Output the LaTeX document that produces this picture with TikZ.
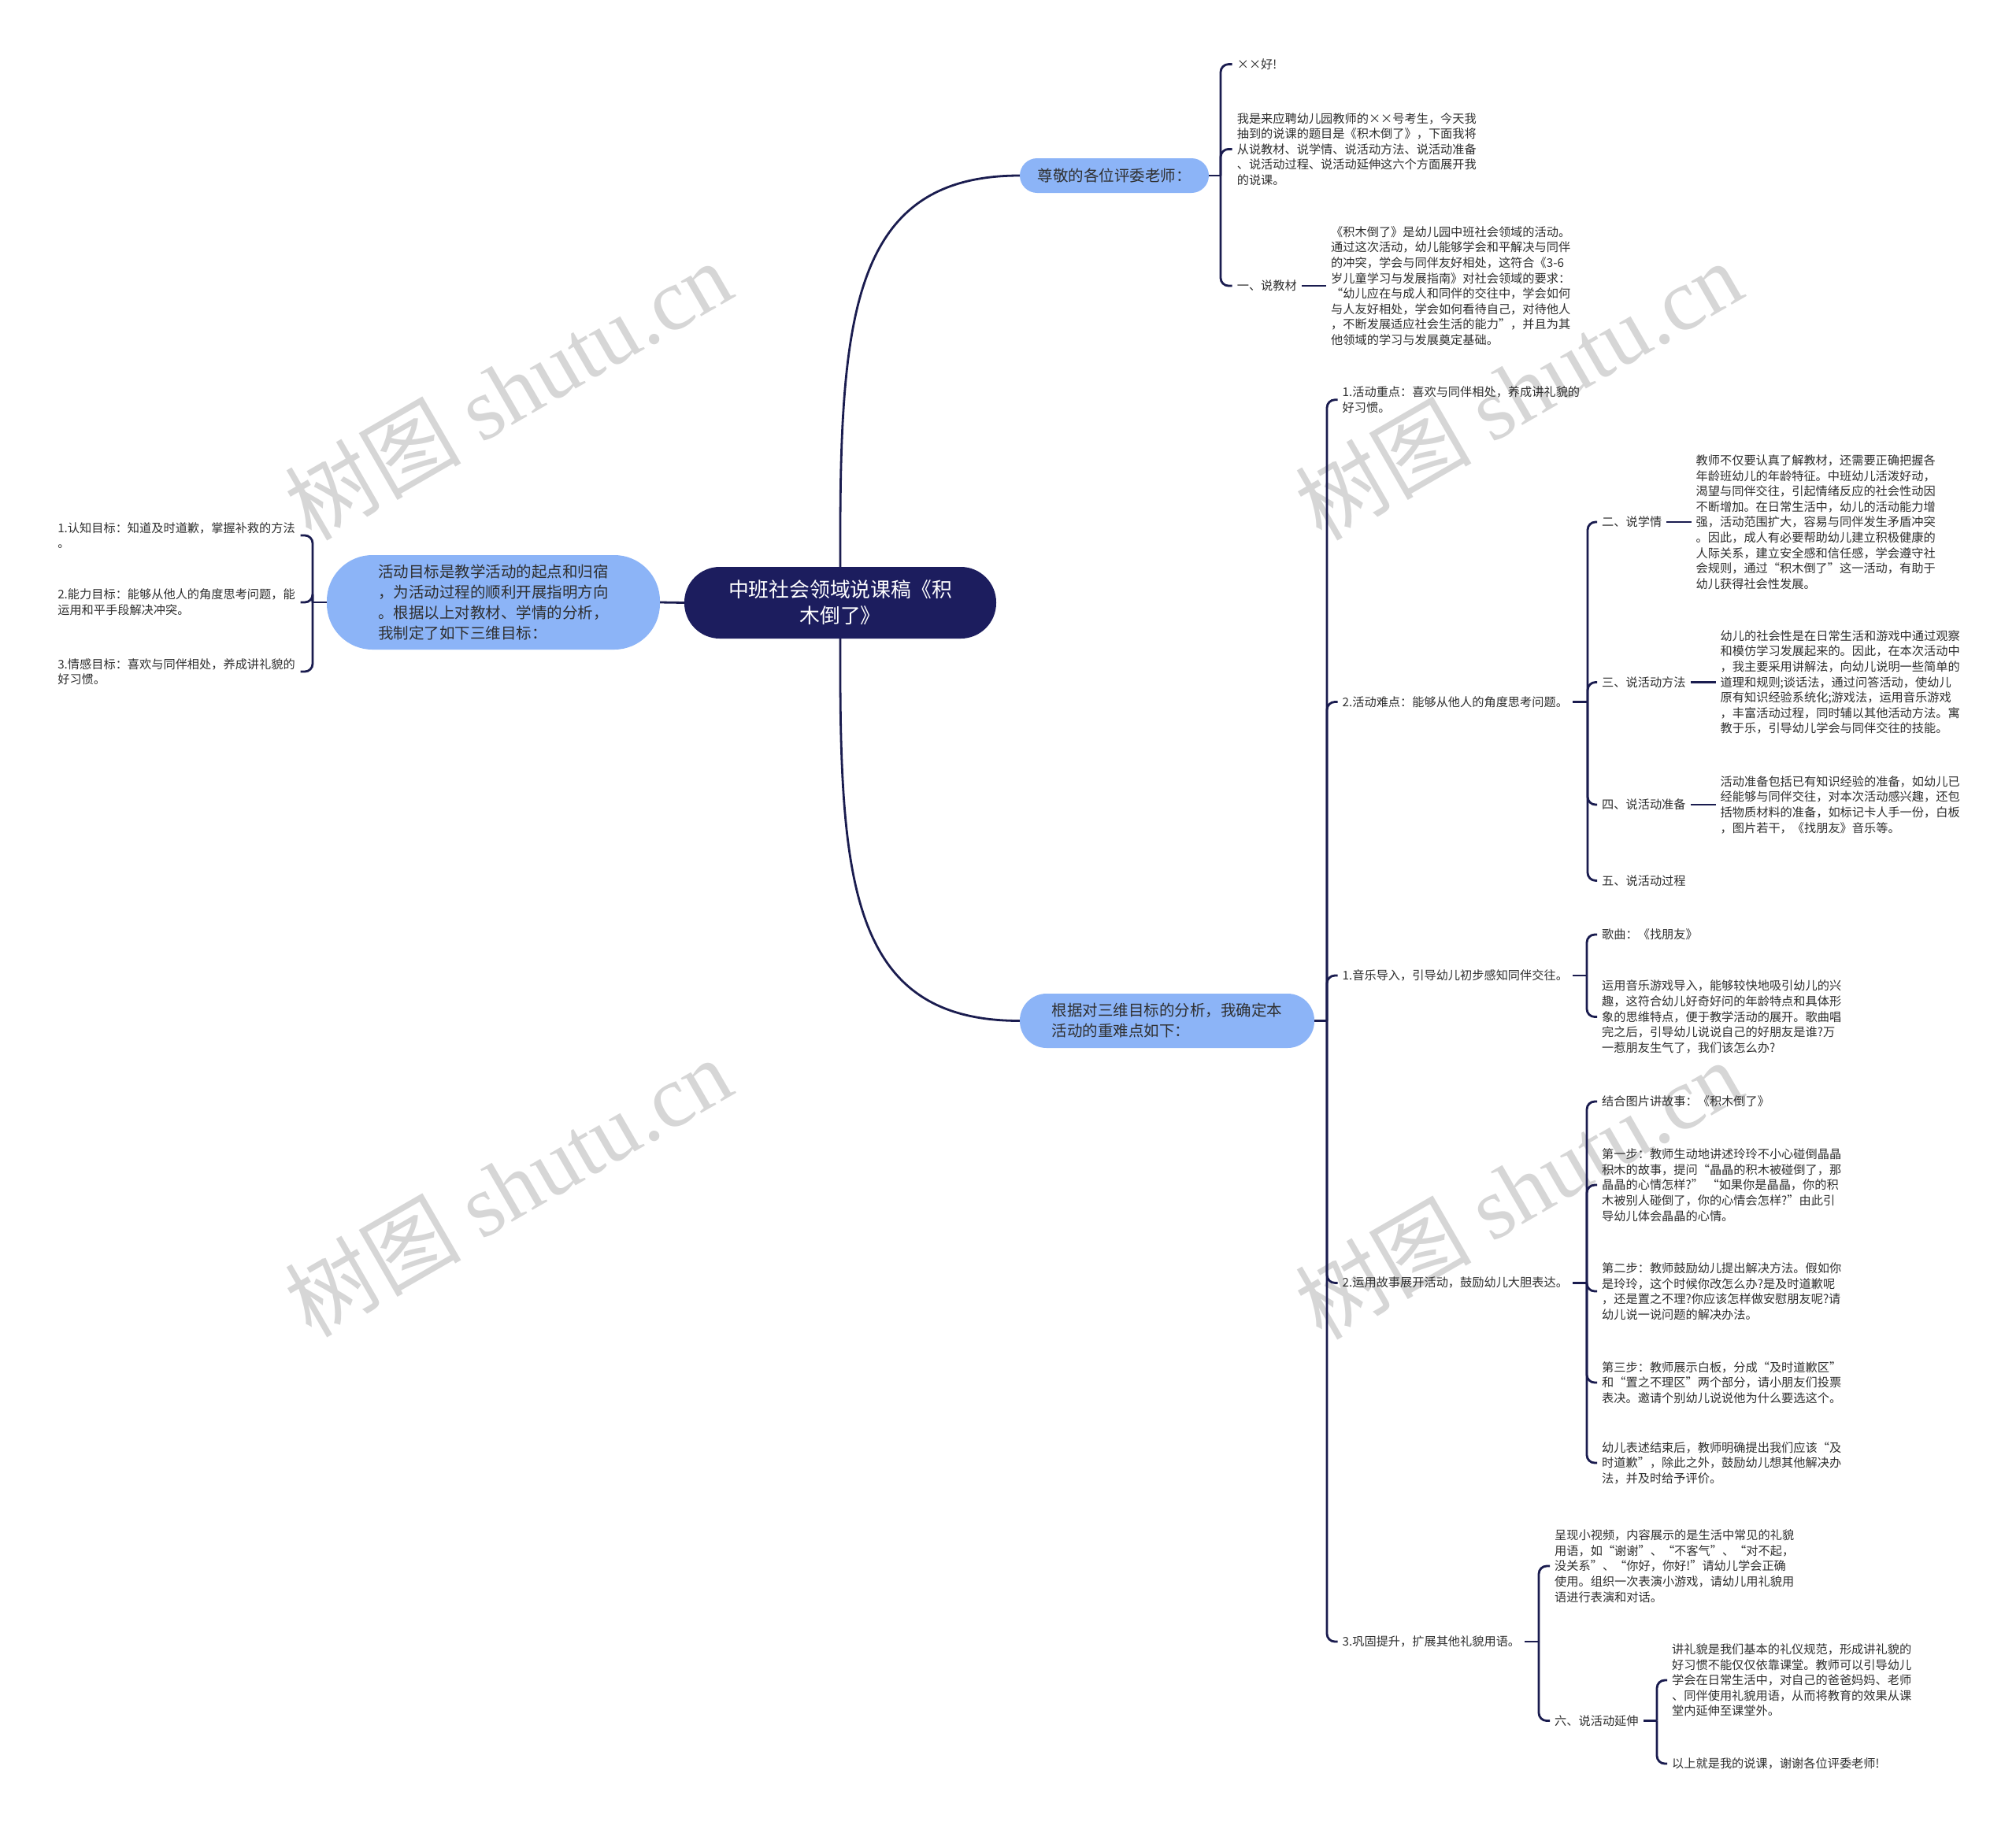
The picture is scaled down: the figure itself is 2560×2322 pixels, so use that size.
\documentclass[tikz,border=0pt]{standalone}
\usepackage{fontspec}
\setmainfont{Noto Sans CJK SC}
\newfontfamily\wmlatin{Liberation Serif}
\definecolor{navy}{HTML}{1C1D5E}
\definecolor{linec}{HTML}{1A1C4F}
\definecolor{pillc}{HTML}{8CB4F7}
\definecolor{txtc}{HTML}{2F2F2F}
\definecolor{wmc}{HTML}{D6D6D6}
\newcommand{\fsmall}{\fontsize{15.2}{19.6}\selectfont}
\newcommand{\fmid}{\fontsize{19.5}{26}\selectfont}
\newcommand{\fbig}{\fontsize{25.8}{33}\selectfont}
\tikzset{
  leaf/.style={font=\fsmall, text=txtc, align=left, inner xsep=6pt, inner ysep=2pt, anchor=west},
  leafR/.style={leaf, anchor=east, text width=302pt},
  pill/.style={fill=pillc, text=txtc, font=\fmid, align=left, inner sep=0pt},
  conn/.style={draw=linec, line width=2.8pt, rounded corners=10pt},
  mainline/.style={draw=linec, line width=2.8pt},
  wmark/.style={text=wmc, rotate=30, font=\fontsize{112}{112}\selectfont},
}
\begin{document}
\begin{tikzpicture}[x=1pt,y=-1pt]
\useasboundingbox (0,0) rectangle (2560,2322);
\fill[white] (0,0) rectangle (2560,2322);

% watermarks
\node[wmark] (wm1) at (645,495) {树图 {\wmlatin shutu.cn}};
\node[wmark] (wm2) at (1928,495) {树图 {\wmlatin shutu.cn}};
\node[wmark] (wm3) at (645,1507) {树图 {\wmlatin shutu.cn}};
\node[wmark] (wm4) at (1928,1510) {树图 {\wmlatin shutu.cn}};

% main nodes
\node[fill=navy, text=white, font=\fbig, align=center, minimum width=396pt, minimum height=91pt, rounded corners=45pt, inner sep=0pt] (root) at (1067,765.5) {中班社会领域说课稿《积\\木倒了》};
\node[pill, minimum width=423pt, minimum height=120pt, rounded corners=58pt] (goal) at (626.5,765) {活动目标是教学活动的起点和归宿\\，为活动过程的顺利开展指明方向\\。根据以上对教材、学情的分析，\\我制定了如下三维目标：};
\node[pill, minimum width=240pt, minimum height=44pt, rounded corners=22pt] (zun) at (1415,223) {尊敬的各位评委老师：};
\node[pill, minimum width=374pt, minimum height=69pt, rounded corners=34pt] (gen) at (1482,1296.5) {根据对三维目标的分析，我确定本\\活动的重难点如下：};

\draw[mainline] (root.west) -- (goal.east);
\draw[mainline] (root.north) .. controls (1066,408) and (1078,223) .. (zun.west);
\draw[mainline] (root.south) .. controls (1066,1118) and (1078,1296.5) .. (gen.west);

% left children
\node[leafR] (l1) at (381.5,680) {1.认知目标：知道及时道歉，掌握补救的方法\\。};
\node[leafR] (l2) at (381.5,765) {2.能力目标：能够从他人的角度思考问题，能\\运用和平手段解决冲突。};
\node[leafR] (l3) at (381.5,853) {3.情感目标：喜欢与同伴相处，养成讲礼貌的\\好习惯。};
\coordinate (jl) at (397,765);
\draw[conn] (goal.west) -- (jl);
\foreach \nn in {l1,l2,l3} \draw[conn] (jl) |- (\nn.east);

% zun children
\node[leaf] (z1) at (1564.6,81.6) {××好!};
\node[leaf] (z2) at (1564.6,189.4) {我是来应聘幼儿园教师的××号考生，今天我\\抽到的说课的题目是《积木倒了》，下面我将\\从说教材、说学情、说活动方法、说活动准备\\、说活动过程、说活动延伸这六个方面展开我\\的说课。};
\node[leaf] (z3) at (1564.6,363) {一、说教材};
\node[leaf] (z3b) at (1684,363) {《积木倒了》是幼儿园中班社会领域的活动。\\通过这次活动，幼儿能够学会和平解决与同伴\\的冲突，学会与同伴友好相处，这符合《3-6\\岁儿童学习与发展指南》对社会领域的要求：\\“幼儿应在与成人和同伴的交往中，学会如何\\与人友好相处，学会如何看待自己，对待他人\\，不断发展适应社会生活的能力”，并且为其\\他领域的学习与发展奠定基础。};
\coordinate (jz) at (1550,223);
\draw[conn] (zun.east) -- (jz);
\foreach \nn in {z1,z2,z3} \draw[conn] (jz) |- (\nn.west);
\draw[mainline] (z3.east) -- (z3b.west);

% gen children
\node[leaf] (d1) at (1698.5,507.8) {1.活动重点：喜欢与同伴相处，养成讲礼貌的\\好习惯。};
\node[leaf] (d2) at (1698.5,891.5) {2.活动难点：能够从他人的角度思考问题。};
\node[leaf] (d3) at (1698.5,1239) {1.音乐导入，引导幼儿初步感知同伴交往。};
\node[leaf] (d4) at (1698.5,1629.4) {2.运用故事展开活动，鼓励幼儿大胆表达。};
\node[leaf] (d5) at (1698.5,2085) {3.巩固提升，扩展其他礼貌用语。};
\coordinate (jg) at (1685,1296.5);
\draw[conn] (gen.east) -- (jg);
\foreach \nn in {d1,d2,d3,d4,d5} \draw[conn] (jg) |- (\nn.west);

% d2 children
\node[leaf] (e1) at (2028,663) {二、说学情};
\node[leaf] (e1b) at (2147.5,663) {教师不仅要认真了解教材，还需要正确把握各\\年龄班幼儿的年龄特征。中班幼儿活泼好动，\\渴望与同伴交往，引起情绪反应的社会性动因\\不断增加。在日常生活中，幼儿的活动能力增\\强，活动范围扩大，容易与同伴发生矛盾冲突\\。因此，成人有必要帮助幼儿建立积极健康的\\人际关系，建立安全感和信任感，学会遵守社\\会规则，通过“积木倒了”这一活动，有助于\\幼儿获得社会性发展。};
\node[leaf] (e2) at (2028,866.5) {三、说活动方法};
\node[leaf] (e2b) at (2178.5,866.5) {幼儿的社会性是在日常生活和游戏中通过观察\\和模仿学习发展起来的。因此，在本次活动中\\，我主要采用讲解法，向幼儿说明一些简单的\\道理和规则;谈话法，通过问答活动，使幼儿\\原有知识经验系统化;游戏法，运用音乐游戏\\，丰富活动过程，同时辅以其他活动方法。寓\\教于乐，引导幼儿学会与同伴交往的技能。};
\node[leaf] (e3) at (2028,1022) {四、说活动准备};
\node[leaf] (e3b) at (2178.5,1022) {活动准备包括已有知识经验的准备，如幼儿已\\经能够与同伴交往，对本次活动感兴趣，还包\\括物质材料的准备，如标记卡人手一份，白板\\，图片若干，《找朋友》音乐等。};
\node[leaf] (e4) at (2028,1118.4) {五、说活动过程};
\coordinate (jd2) at (2016,891.5);
\draw[conn] (d2.east) -- (jd2);
\foreach \nn in {e1,e2,e3,e4} \draw[conn] (jd2) |- (\nn.west);
\draw[mainline] (e1.east) -- (e1b.west);
\draw[mainline] (e2.east) -- (e2b.west);
\draw[mainline] (e3.east) -- (e3b.west);

% d3 children
\node[leaf] (f1) at (2028,1187) {歌曲：《找朋友》};
\node[leaf] (f2) at (2028,1291.5) {运用音乐游戏导入，能够较快地吸引幼儿的兴\\趣，这符合幼儿好奇好问的年龄特点和具体形\\象的思维特点，便于教学活动的展开。歌曲唱\\完之后，引导幼儿说说自己的好朋友是谁?万\\一惹朋友生气了，我们该怎么办?};
\coordinate (jd3) at (2015,1239);
\draw[conn] (d3.east) -- (jd3);
\foreach \nn in {f1,f2} \draw[conn] (jd3) |- (\nn.west);

% d4 children
\node[leaf] (g1) at (2028,1399) {结合图片讲故事：《积木倒了》};
\node[leaf] (g2) at (2028,1505) {第一步：教师生动地讲述玲玲不小心碰倒晶晶\\积木的故事，提问“晶晶的积木被碰倒了，那\\晶晶的心情怎样?” “如果你是晶晶，你的积\\木被别人碰倒了，你的心情会怎样?”由此引\\导幼儿体会晶晶的心情。};
\node[leaf] (g3) at (2028,1640) {第二步：教师鼓励幼儿提出解决方法。假如你\\是玲玲，这个时候你改怎么办?是及时道歉呢\\，还是置之不理?你应该怎样做安慰朋友呢?请\\幼儿说一说问题的解决办法。};
\node[leaf] (g4) at (2028,1756) {第三步：教师展示白板，分成“及时道歉区”\\和“置之不理区”两个部分，请小朋友们投票\\表决。邀请个别幼儿说说他为什么要选这个。};
\node[leaf] (g5) at (2028,1858) {幼儿表述结束后，教师明确提出我们应该“及\\时道歉”，除此之外，鼓励幼儿想其他解决办\\法，并及时给予评价。};
\coordinate (jd4) at (2015,1629.4);
\draw[conn] (d4.east) -- (jd4);
\foreach \nn in {g1,g2,g3,g4,g5} \draw[conn] (jd4) |- (\nn.west);

% d5 children
\node[leaf] (h1) at (1968,1989) {呈现小视频，内容展示的是生活中常见的礼貌\\用语，如“谢谢”、“不客气”、“对不起，\\没关系”、“你好，你好!”请幼儿学会正确\\使用。组织一次表演小游戏，请幼儿用礼貌用\\语进行表演和对话。};
\node[leaf] (h2) at (1968,2185.5) {六、说活动延伸};
\coordinate (jd5) at (1954,2085);
\draw[conn] (d5.east) -- (jd5);
\foreach \nn in {h1,h2} \draw[conn] (jd5) |- (\nn.west);

% h2 children
\node[leaf] (i1) at (2117,2134) {讲礼貌是我们基本的礼仪规范，形成讲礼貌的\\好习惯不能仅仅依靠课堂。教师可以引导幼儿\\学会在日常生活中，对自己的爸爸妈妈、老师\\、同伴使用礼貌用语，从而将教育的效果从课\\堂内延伸至课堂外。};
\node[leaf] (i2) at (2117,2240) {以上就是我的说课，谢谢各位评委老师!};
\coordinate (jh2) at (2104,2185.5);
\draw[conn] (h2.east) -- (jh2);
\foreach \nn in {i1,i2} \draw[conn] (jh2) |- (\nn.west);

\end{tikzpicture}
\end{document}
